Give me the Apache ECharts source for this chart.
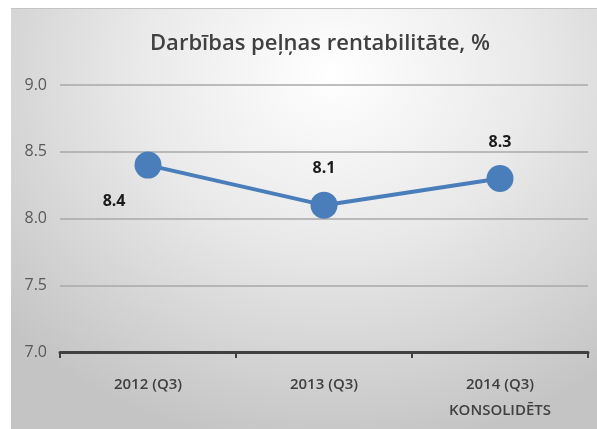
<!DOCTYPE html>
<html>
  <head>
    <meta charset="utf-8" />
    <title>Darbības peļņas rentabilitāte</title>
    <script src="https://cdn.jsdelivr.net/npm/echarts@6/dist/echarts.min.js"></script>
    <style>
      body { margin: 0; background: #ffffff; }
      #frame {
        position: absolute; left: 11px; top: 8px; width: 586px; height: 421px;
        background: radial-gradient(ellipse 75% 90% at 55% 15%, #ffffff 0%, #e9e9e9 45%, #c4c4c4 100%);
        border-top: 1px solid #c4c4c4;
      }
      #main { position: absolute; left: 0; top: 0; width: 597px; height: 429px; }
    </style>
  </head>
  <body>
    <div id="frame"></div>
    <div id="main"></div>
    <script type="text/javascript">
      var categories = ["2012 (Q3)", "2013 (Q3)", "2014 (Q3)\nKONSOLIDĒTS"];
      var values = [8.4, 8.1, 8.3];

      // label placement per point, as in the original
      var labelPos = [
        { position: "left", offset: [-4, 36] },
        { position: "top", offset: [0, -10] },
        { position: "top", offset: [0, -10] }
      ];

      var seriesData = [];
      for (i = 0; i < values.length; i++) {
        seriesData.push({ value: values[i], label: labelPos[i] });
      }

      var myChart = echarts.init(document.getElementById("main"));
      var option = {
        backgroundColor: "transparent",
        title: {
          text: "Darbības peļņas rentabilitāte, %",
          left: 315,
          textAlign: "center",
          top: 28,
          textStyle: {
            fontFamily: "Open Sans",
            fontSize: 22,
            fontWeight: 600,
            color: "#404040"
          }
        },
        grid: { left: 60, right: 9, top: 85, bottom: 77 },
        xAxis: {
          type: "category",
          data: categories,
          boundaryGap: true,
          axisLine: { lineStyle: { color: "#404040", width: 3 } },
          axisTick: { show: true, length: 6, lineStyle: { color: "#404040", width: 2 } },
          axisLabel: {
            margin: 20,
            fontFamily: "Open Sans",
            fontSize: 15,
            fontWeight: 600,
            lineHeight: 26,
            color: "#404040"
          }
        },
        yAxis: {
          type: "value",
          min: 7,
          max: 9,
          interval: 0.5,
          axisLine: { show: false },
          axisTick: { show: false },
          axisLabel: {
            margin: 13,
            fontFamily: "Open Sans",
            fontSize: 16,
            color: "#595959",
            formatter: function (v) { return v.toFixed(1); }
          },
          splitLine: { lineStyle: { color: "#a8a8a8", width: 1.5 } }
        },
        series: [
          {
            type: "line",
            data: seriesData,
            symbol: "circle",
            symbolSize: 27,
            lineStyle: { color: "#4a7ebb", width: 4 },
            itemStyle: { color: "#4a7ebb" },
            label: {
              show: true,
              fontFamily: "Open Sans",
              fontSize: 16,
              fontWeight: "bold",
              color: "#1a1a1a",
              formatter: function (p) { return p.value.toFixed(1); }
            },
            animation: false
          }
        ]
      };
      myChart.setOption(option);
    </script>
  </body>
</html>
